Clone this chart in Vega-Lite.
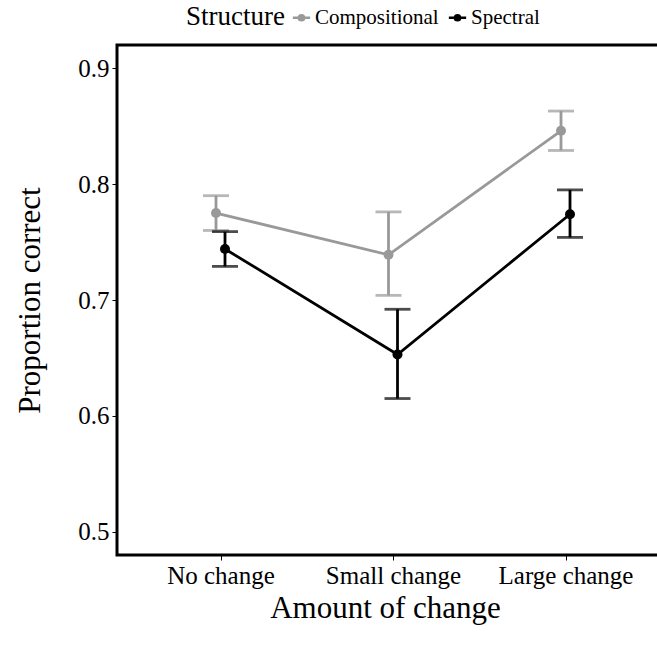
{
  "$schema": "https://vega.github.io/schema/vega-lite/v6.json",
  "autosize": "none",
  "width": 552,
  "height": 510,
  "padding": {"left": 117, "top": 45, "right": 0, "bottom": 96},
  "background": "white",
  "data": {
    "values": [
      {"change": "No change", "structure": "Compositional", "mean": 0.775, "lo": 0.760, "hi": 0.790},
      {"change": "No change", "structure": "Spectral", "mean": 0.744, "lo": 0.729, "hi": 0.759},
      {"change": "Small change", "structure": "Compositional", "mean": 0.739, "lo": 0.704, "hi": 0.776},
      {"change": "Small change", "structure": "Spectral", "mean": 0.653, "lo": 0.615, "hi": 0.692},
      {"change": "Large change", "structure": "Compositional", "mean": 0.846, "lo": 0.829, "hi": 0.863},
      {"change": "Large change", "structure": "Spectral", "mean": 0.774, "lo": 0.754, "hi": 0.795}
    ]
  },
  "encoding": {
    "x": {
      "field": "change",
      "type": "nominal",
      "sort": ["No change", "Small change", "Large change"],
      "scale": {"type": "point", "padding": 0.6},
      "axis": {
        "title": "Amount of change",
        "labelAngle": 0,
        "titleX": 268,
        "titleY": 53,
        "titleBaseline": "middle",
        "titleAnchor": null
      }
    },
    "xOffset": {
      "field": "structure",
      "type": "nominal",
      "scale": {"type": "point", "padding": 0, "range": [-4.5, 4.5]}
    },
    "color": {
      "field": "structure",
      "type": "nominal",
      "scale": {"domain": ["Compositional", "Spectral"], "range": ["#999999", "#000000"]},
      "legend": {
        "title": "Structure",
        "orient": "none",
        "direction": "horizontal",
        "legendX": 69,
        "legendY": -38,
        "titleOrient": "left",
        "symbolType": "M-1,0L1,0M-0.3,0A0.3,0.3 0 1,1 0.3,0A0.3,0.3 0 1,1 -0.3,0Z",
        "symbolSize": 300,
        "symbolStrokeWidth": 2.5,
        "encode": {
          "symbols": {
            "update": {
              "fill": {"scale": "color", "field": "value"},
              "stroke": {"scale": "color", "field": "value"}
            }
          }
        }
      }
    }
  },
  "layer": [
    {
      "mark": {"type": "line", "strokeWidth": 2.8},
      "encoding": {
        "y": {
          "field": "mean",
          "type": "quantitative",
          "scale": {"domain": [0.48, 0.92], "nice": false, "zero": false},
          "axis": {
            "title": "Proportion correct",
            "values": [0.5, 0.6, 0.7, 0.8, 0.9],
            "format": ".1f",
            "titleX": -87,
            "titleY": 255,
            "titleAnchor": null,
            "titleBaseline": "middle"
          }
        }
      }
    },
    {
      "mark": {"type": "rule", "strokeWidth": 2.8},
      "encoding": {
        "y": {"field": "lo", "type": "quantitative"},
        "y2": {"field": "hi"}
      }
    },
    {
      "mark": {"type": "tick", "size": 26, "thickness": 2.8, "orient": "horizontal"},
      "encoding": {"y": {"field": "lo", "type": "quantitative"}}
    },
    {
      "mark": {"type": "tick", "size": 26, "thickness": 2.8, "orient": "horizontal"},
      "encoding": {"y": {"field": "hi", "type": "quantitative"}}
    },
    {
      "mark": {"type": "point", "filled": true, "size": 100, "opacity": 1},
      "encoding": {"y": {"field": "mean", "type": "quantitative"}}
    }
  ],
  "config": {
    "font": "Liberation Serif",
    "view": {"stroke": "#000000", "strokeWidth": 3},
    "axis": {
      "domain": false,
      "grid": false,
      "ticks": true,
      "tickColor": "#000000",
      "tickSize": 5,
      "tickWidth": 1,
      "labelColor": "#000000",
      "labelFont": "Liberation Serif",
      "labelFontSize": 25,
      "labelPadding": 3,
      "titleFont": "Liberation Serif",
      "titleFontSize": 31,
      "titleFontWeight": "normal",
      "titleColor": "#000000"
    },
    "legend": {
      "titleFont": "Liberation Serif",
      "titleFontSize": 27,
      "titleFontWeight": "normal",
      "titleColor": "#000000",
      "labelFont": "Liberation Serif",
      "labelFontSize": 21,
      "labelColor": "#000000",
      "columnPadding": 4,
      "labelOffset": 3,
      "titlePadding": 6
    }
  }
}
